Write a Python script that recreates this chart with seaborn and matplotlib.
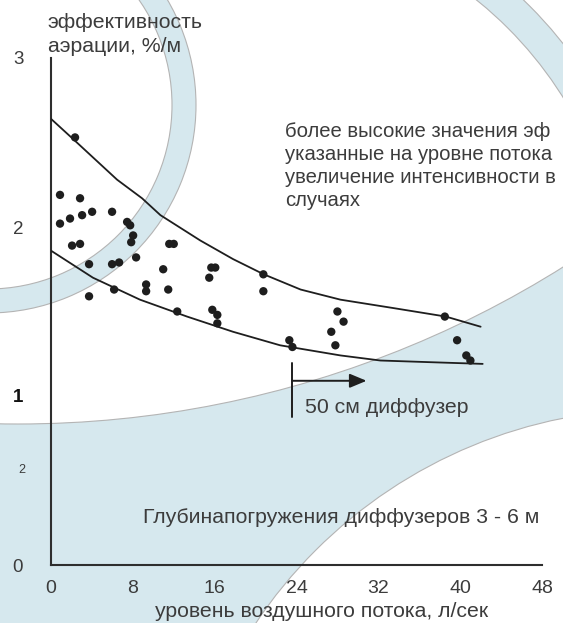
import matplotlib
matplotlib.use("Agg")
import matplotlib.pyplot as plt
from matplotlib import transforms
from matplotlib.patches import Circle, Wedge
import pandas as pd
import seaborn as sns

# measured points: air flow (l/s) vs aeration efficiency (%/m)
flow_points = [2.35, 0.88, 2.84, 1.86, 3.04, 4.02, 5.97, 0.88, 7.44, 7.74,
               8.03, 7.84, 2.06, 2.84, 11.56, 12.0, 3.72, 5.97, 6.66, 8.32,
               10.97, 9.30, 9.30, 11.46, 6.17, 3.72, 12.34, 15.67, 16.06, 15.47,
               20.76, 20.76, 15.77, 16.26, 16.26, 23.3, 23.6, 28.0, 28.6, 27.4,
               27.8, 38.5, 39.7, 40.6, 41.0]
eff_points = [2.53, 2.19, 2.17, 2.05, 2.07, 2.09, 2.09, 2.02, 2.03, 2.01,
              1.95, 1.91, 1.89, 1.90, 1.90, 1.90, 1.78, 1.78, 1.79, 1.82,
              1.75, 1.66, 1.62, 1.63, 1.63, 1.59, 1.50, 1.76, 1.76, 1.70,
              1.72, 1.62, 1.51, 1.48, 1.43, 1.33, 1.29, 1.50, 1.44, 1.38,
              1.30, 1.47, 1.33, 1.24, 1.21]

# envelope curves
upper_flow = [0, 2.35, 6.46, 8.9, 10.7, 14.6, 17.8, 20.8, 24.4, 28.3, 33.5, 38.6, 42.0]
upper_eff = [2.64, 2.51, 2.28, 2.17, 2.07, 1.92, 1.81, 1.72, 1.63, 1.57, 1.52, 1.47, 1.41]
lower_flow = [0, 4.1, 8.7, 13.3, 17.8, 22.4, 28.3, 32.2, 37.1, 42.2]
lower_eff = [1.86, 1.70, 1.57, 1.47, 1.38, 1.30, 1.24, 1.21, 1.20, 1.19]

x_ticks = [0, 8, 16, 24, 32, 40, 48]
x_minor = [4, 12, 20, 28, 36, 44]
y_ticks = [0, 1, 2, 3]

y_title = ["эффективность", "аэрации, %/м"]
note_lines = ["более высокие значения эф",
              "указанные на уровне потока",
              "увеличение интенсивности в",
              "случаях"]
diffuser_label = "50 см диффузер"
depth_label = "Глубинапогружения диффузеров 3 - 6 м"
x_title = "уровень воздушного потока, л/сек"

BLUE = "#d6e8ee"
EDGE = "#b4b4b4"
INK = "#1e1e1e"
TXT = "#3c3c3c"
FS = 15.3

sns.set_theme(style="white")
plt.rcParams["font.family"] = ["Liberation Sans", "DejaVu Sans"]

W, H = 563, 623
fig = plt.figure(figsize=(W / 100, H / 100), dpi=100, facecolor=BLUE)

# background decoration in pixel units (origin top-left)
px = transforms.Affine2D().scale(1 / W, -1 / H).translate(0, 1) + fig.transFigure
fig.patches.append(Circle((18, -601), 1025, transform=px, facecolor="white",
                          edgecolor=EDGE, lw=0.8, zorder=-10))
fig.patches.append(Wedge((-12, 105), 208, 0, 360, width=24, transform=px,
                         facecolor=BLUE, edgecolor=EDGE, lw=0.8, zorder=-9))
fig.patches.append(Wedge((230, 306), 424, 0, 360, width=31, transform=px,
                         facecolor=BLUE, edgecolor=EDGE, lw=0.8, zorder=-9))
fig.patches.append(Circle((657, 892), 483, transform=px, facecolor="white",
                          edgecolor=EDGE, lw=0.8, zorder=-8))

ax = fig.add_axes([51 / W, 1 - 565 / H, 491 / W, 507 / H])
ax.patch.set_alpha(0)

pts = pd.DataFrame({"flow": flow_points, "eff": eff_points})
up = pd.DataFrame({"flow": upper_flow, "eff": upper_eff})
lo = pd.DataFrame({"flow": lower_flow, "eff": lower_eff})

sns.lineplot(data=up, x="flow", y="eff", sort=False, estimator=None,
             color=INK, lw=1.3, ax=ax, zorder=3)
sns.lineplot(data=lo, x="flow", y="eff", sort=False, estimator=None,
             color=INK, lw=1.3, ax=ax, zorder=3)
sns.scatterplot(data=pts, x="flow", y="eff", s=36, color=INK,
                edgecolor="none", ax=ax, zorder=4)

ax.set_xlim(0, 48)
ax.set_ylim(0, 3)
ax.set_xlabel("")
ax.set_ylabel("")

for side in ("top", "right"):
    ax.spines[side].set_visible(False)
for side in ("left", "bottom"):
    ax.spines[side].set_color("#2e2e2e")
    ax.spines[side].set_linewidth(1.5)

ax.set_xticks(x_ticks)
ax.set_xticklabels([str(v) for v in x_ticks])
ax.set_xticks(x_minor, minor=True)
ax.set_yticks(y_ticks)
ax.set_yticklabels([str(v) for v in y_ticks])
ax.set_yticks([0.49], minor=True)

ax.tick_params(axis="x", which="major", direction="in", length=10, width=1.1,
               color="#2e2e2e", pad=11, labelsize=14, labelcolor=TXT)
ax.tick_params(axis="x", which="minor", direction="in", length=5, width=1.1,
               color="#2e2e2e")
ax.tick_params(axis="y", which="major", direction="in", length=12, width=1.1,
               color="#2e2e2e", pad=20, labelsize=13.5, labelcolor=TXT)
ax.tick_params(axis="y", which="minor", direction="in", length=7, width=1.1,
               color="#2e2e2e")
for lab in ax.get_yticklabels():
    if lab.get_text() == "1":
        lab.set_color("#111111")
        lab.set_fontweight("bold")

ax.text(-0.059, 0.56, "2", transform=ax.get_yaxis_transform(), ha="center",
        va="center", fontsize=9, color=TXT)

# axis titles and notes
ax.text(-0.3, 3.18, y_title[0], fontsize=FS, color=TXT, va="baseline", clip_on=False)
ax.text(-0.3, 3.035, y_title[1], fontsize=FS, color=TXT, va="baseline", clip_on=False)
for i, line in enumerate(note_lines):
    ax.text(22.9, 2.533 - i * 0.136, line, fontsize=14.6, color=TXT,
            va="baseline", clip_on=False)
ax.text(24.8, 0.90, diffuser_label, fontsize=FS, color=TXT, va="baseline")
ax.text(9.0, 0.249, depth_label, fontsize=FS, color=TXT, va="baseline")
ax.text(10.2, -0.305, x_title, fontsize=FS, color=TXT, va="baseline", clip_on=False)

# diffuser marker with arrow
ax.plot([23.6, 23.6], [1.195, 0.875], color=INK, lw=1.4, zorder=3)
ax.annotate("", xy=(30.85, 1.09), xytext=(23.6, 1.09),
            arrowprops=dict(arrowstyle="-|>,head_length=0.6,head_width=0.25",
                            mutation_scale=17, lw=1.4, color=INK,
                            shrinkA=0, shrinkB=0), zorder=3)

fig.savefig("out.png", dpi=100, facecolor=fig.get_facecolor())
